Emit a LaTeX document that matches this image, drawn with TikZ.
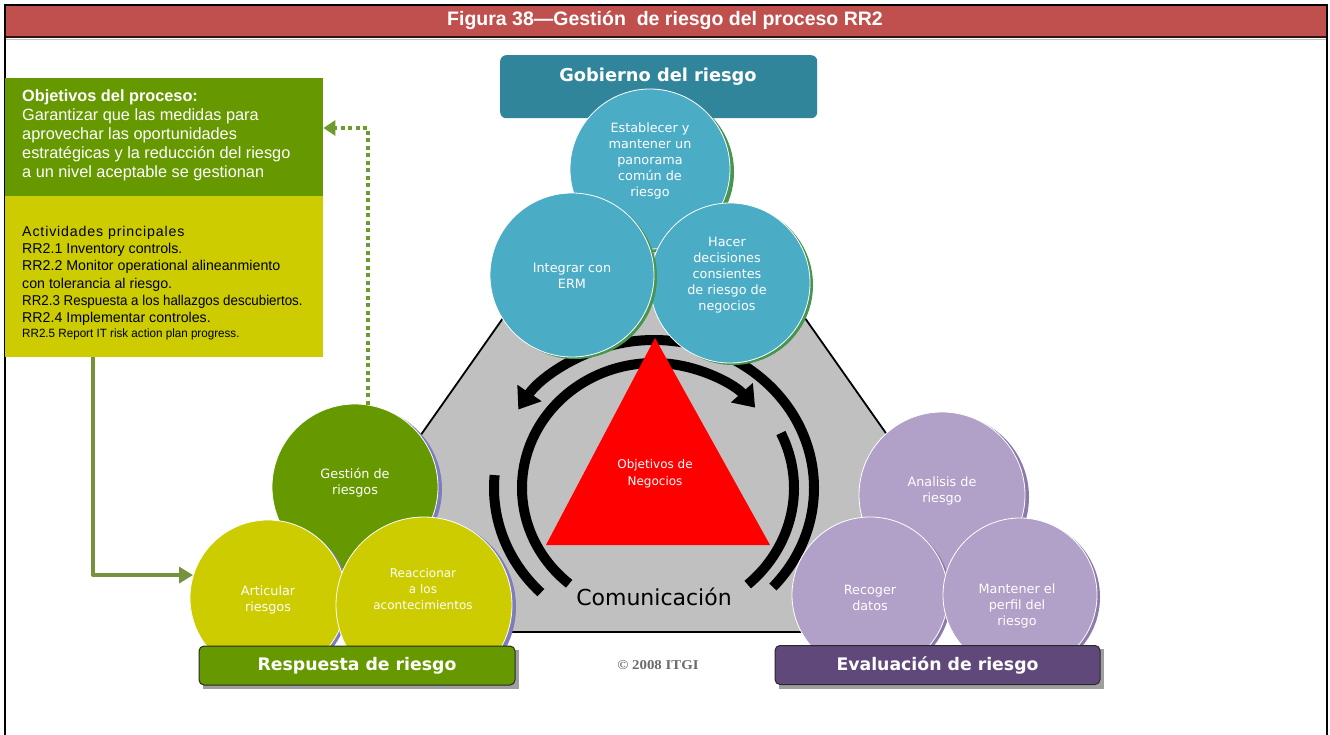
\documentclass[tikz,border=0pt]{standalone}
\usepackage{fontspec}
\setmainfont{Liberation Sans}
\newfontfamily\dvs{DejaVu Sans}
\newfontfamily\lserif{Liberation Serif}
\usetikzlibrary{arrows.meta}
\definecolor{titlered}{RGB}{192,80,77}
\definecolor{objgreen}{RGB}{102,153,0}
\definecolor{actyellow}{RGB}{204,204,0}
\definecolor{blueC}{RGB}{75,172,198}
\definecolor{govteal}{RGB}{49,133,155}
\definecolor{purpC}{RGB}{177,160,199}
\definecolor{evalpurp}{RGB}{96,73,122}
\definecolor{hexgray}{RGB}{192,192,192}
\definecolor{arrgreen}{RGB}{118,146,60}
\definecolor{dotgreen}{RGB}{110,155,45}
\definecolor{shgreen}{RGB}{70,150,80}
\definecolor{shblue}{RGB}{125,125,190}
\definecolor{shpurp}{RGB}{140,123,170}
\definecolor{labedge}{RGB}{40,40,40}
\begin{document}
\begin{tikzpicture}[x=1pt,y=-1pt,
  bub/.style={circle, draw=white, line width=0.8pt, inner sep=0pt, minimum size=#1},
  shad/.style={circle, inner sep=0pt, minimum size=#1},
  ctext/.style={text=white, font=\dvs\fontsize{12.8}{16}\selectfont, align=center, inner sep=0pt},
  lab/.style={rounded corners=5pt, draw=labedge, line width=1pt, minimum height=39pt, inner sep=0pt,
              text=white, font=\dvs\bfseries\fontsize{17.3}{19}\selectfont},
  band/.style={line width=10pt, black},
  bandarrow/.style={band, -{Triangle[width=28pt,length=20pt]}},
  dotg/.style={draw=dotgreen, line width=4pt, dash pattern=on 4pt off 3.5pt, -{Triangle[width=15pt,length=12pt]}},
  solg/.style={draw=arrgreen, line width=4pt, line join=round, -{Triangle[width=16pt,length=14pt]}}
]
\useasboundingbox (0,0) rectangle (1330,735);
\fill[white] (0,0) rectangle (1330,735);
% frame and title
\fill[titlered] (5,5) rectangle (1327,37);
\draw[line width=1.2pt, black!75!titlered] (5,37) -- (1327,37);
\draw[gray!50, line width=0.8pt] (6,39.5) -- (1326,39.5);
\draw[line width=2pt] (5,735) -- (5,5) -- (1327,5) -- (1327,735);
\node[text=white, font=\bfseries\fontsize{19.5}{22}\selectfont] (title) at (665,20) {Figura 38—Gestión\ \ de riesgo del proceso RR2};

% left boxes
\node[fill=objgreen, minimum width=318pt, minimum height=118pt, inner sep=0pt, anchor=north west] (obj) at (5,78) {};
\node[fill=actyellow, minimum width=318pt, minimum height=161pt, inner sep=0pt, anchor=north west] (act) at (5,196) {};
\node[anchor=north west, text=white, align=left, font=\fontsize{16.3}{19}\selectfont, inner sep=0pt] (objtxt) at (22,89)
 {\textbf{Objetivos del proceso:}\\Garantizar que las medidas para\\aprovechar las oportunidades\\estratégicas y la reducción del riesgo\\a un nivel aceptable se gestionan};
\node[anchor=north west, align=left, font=\fontsize{14.2}{17.2}\selectfont, inner sep=0pt] (acttxt) at (22,226)
 {{\addfontfeatures{LetterSpace=6}Actividades principales}\\RR2.1 Inventory controls.\\RR2.2 Monitor operational alineanmiento\\con tolerancia al riesgo.\\\scalebox{0.94}[1]{RR2.3 Respuesta a los hallazgos descubiertos.}\\RR2.4 Implementar controles.\\[-2.5pt]{\fontsize{12}{13}\selectfont\scalebox{0.97}[1]{RR2.5 Report IT risk action plan progress.}}};

% gray hexagon
\filldraw[fill=hexgray, draw=black, line width=1.8pt, line join=round]
  (572,220) -- (736,220) -- (947,520) -- (868,632) -- (440,632) -- (361,520) -- cycle;

% circular arrows
\begin{scope}[shift={(654,488)}, y=1pt]
  \draw[bandarrow] (-42:160 and 148) arc[start angle=-42, end angle=148, x radius=160, y radius=148];
  \draw[band] (175:160 and 148) arc[start angle=175, end angle=225, x radius=160, y radius=148];
  \draw[bandarrow] (230:132 and 125) arc[start angle=230, end angle=40, x radius=132, y radius=125];
  \draw[band] (25:140 and 130) arc[start angle=25, end angle=-48, x radius=140, y radius=130];
\end{scope}

% red triangle
\fill[red] (655,338) -- (546,545) -- (770,545) -- cycle;
\node[ctext, font=\dvs\fontsize{12}{17}\selectfont] (negtxt) at (655,474) {Objetivos de\\Negocios};
\node[font=\dvs\fontsize{22}{24}\selectfont, inner sep=0pt] (com) at (654,597) {Comunicación};

% governance
\node[fill=govteal, rounded corners=6pt, minimum width=317pt, minimum height=63pt, inner sep=0pt, anchor=north west] (gob) at (500,55) {};
\node[text=white, font=\dvs\bfseries\fontsize{17.8}{19}\selectfont, inner sep=0pt] (gobtxt) at (658,77) {Gobierno del riesgo};

\node[shad=160pt, fill=shgreen] (estS) at (654,172) {};
\node[bub=160pt, fill=blueC] (est) at (650,169) {};
\node[shad=160pt, fill=shgreen] (hacS) at (733,285) {};
\node[bub=160pt, fill=blueC] (hac) at (730,283) {};
\node[shad=164pt, fill=shgreen] (intS) at (575,277) {};
\node[bub=164pt, fill=blueC] (int) at (572,275) {};
\node[ctext] (esttxt) at (650,161) {Establecer y\\mantener un\\panorama\\común de\\riesgo};
\node[ctext] (inttxt) at (572,276) {Integrar con\\ERM};
\node[ctext] (hactxt) at (727,275) {Hacer\\decisiones\\consientes\\de riesgo de\\negocios};

% response group
\begin{scope}
\clip (0,0) rectangle (1330,684);
\node[shad=166pt, fill=shblue] (gesS) at (359,489) {};
\node[bub=166pt, fill=objgreen] (ges) at (355,487) {};
\node[shad=156pt, fill=shblue] (artS) at (271,600) {};
\node[bub=156pt, fill=actyellow] (art) at (268,598) {};
\node[shad=176pt, fill=shblue] (reaS) at (428,607) {};
\node[bub=176pt, fill=actyellow] (rea) at (424,605) {};
% evaluation group
\node[shad=166pt, fill=shpurp] (anaS) at (946,497) {};
\node[bub=166pt, fill=purpC] (ana) at (942,495) {};
\node[shad=156pt, fill=shpurp] (recS) at (873,597) {};
\node[bub=156pt, fill=purpC] (rec) at (870,595) {};
\node[shad=154pt, fill=shpurp] (manS) at (1023,597) {};
\node[bub=154pt, fill=purpC] (man) at (1020,595) {};
\end{scope}
\node[ctext] (gestxt) at (355,483) {Gestión de\\riesgos};
\node[ctext] (arttxt) at (268,600) {Articular\\riesgos};
\node[ctext, font=\dvs\fontsize{12}{16}\selectfont] (reatxt) at (423,589) {Reaccionar\\a los\\acontecimientos};
\fill[gray!75] (203,650) rectangle (519,689);
\node[lab, fill=objgreen, minimum width=316pt] (resp) at (357,665.5) {Respuesta de riesgo};

\node[ctext] (anatxt) at (942,491) {Analisis de\\riesgo};
\node[ctext] (rectxt) at (870,598) {Recoger\\datos};
\node[ctext] (mantxt) at (1017,606) {Mantener el\\perfil del\\riesgo};
\fill[gray!75] (779,649) rectangle (1104,689);
\node[lab, fill=evalpurp, minimum width=325pt] (eval) at (937.5,665) {Evaluación de riesgo};

\node[text=gray!85!black, font=\lserif\bfseries\fontsize{13.5}{15}\selectfont] (copy) at (658,665) {\scalebox{1.1}[1]{© 2008 ITGI}};

% connectors
\coordinate (objin) at (obj.east |- 0,128);
\draw[dotg] (ges.81) |- (objin);
\draw[solg] (act.south -| 93,0) |- (art.163);
\end{tikzpicture}
\end{document}
